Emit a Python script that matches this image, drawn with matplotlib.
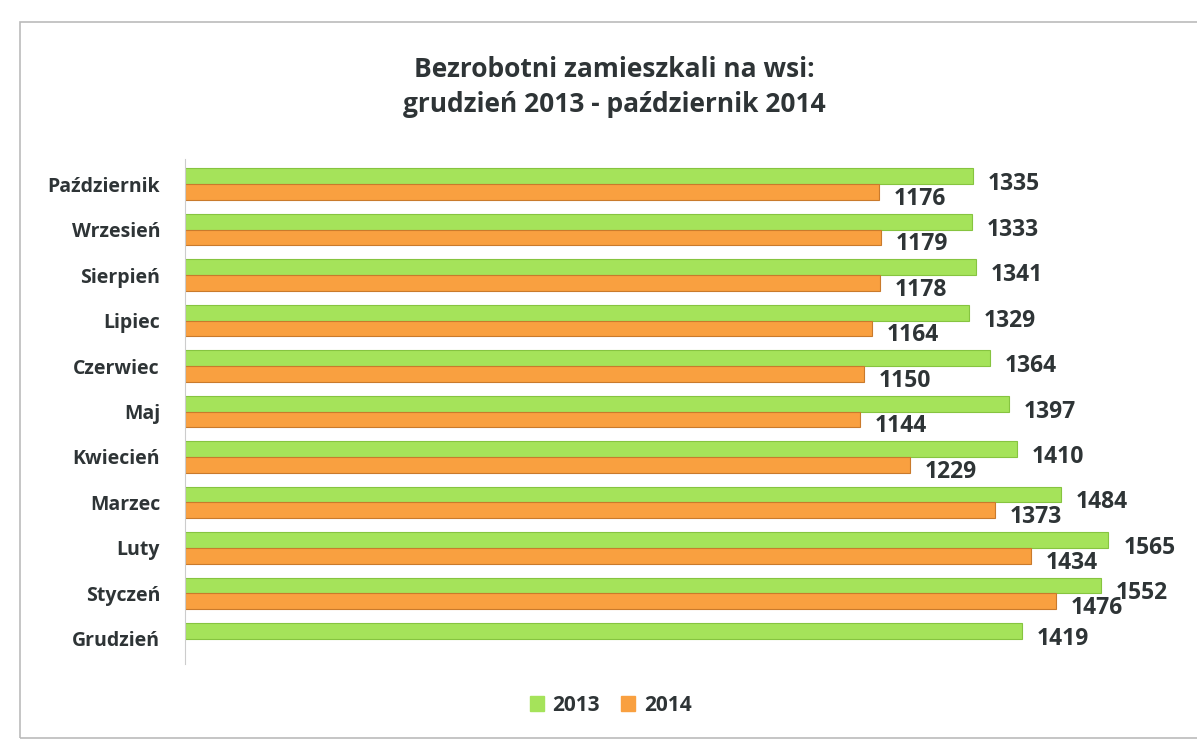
import matplotlib.pyplot as plt
from matplotlib.patches import Rectangle, Patch

plt.rcParams['font.family'] = ['Open Sans', 'DejaVu Sans']

# months from top to bottom, as in the chart
months = ['Październik', 'Wrzesień', 'Sierpień', 'Lipiec', 'Czerwiec', 'Maj',
          'Kwiecień', 'Marzec', 'Luty', 'Styczeń', 'Grudzień']
values_2013 = [1335, 1333, 1341, 1329, 1364, 1397, 1410, 1484, 1565, 1552, 1419]
values_2014 = [1176, 1179, 1178, 1164, 1150, 1144, 1229, 1373, 1434, 1476, None]

green = '#A5E35A'
orange = '#F9A040'
text_col = '#2E3436'

fig = plt.figure(figsize=(11.97, 7.44), dpi=100)

# outer frame of the chart
fig.patches.append(Rectangle((20 / 1197, 6 / 744), 1.2, 716 / 744, transform=fig.transFigure,
                             fill=False, edgecolor='#BBBBBB', linewidth=1.2))

ax = fig.add_axes([185 / 1197, 80 / 744, 1012 / 1197, 505 / 744])

n = len(months)
ypos = [n - 1 - i for i in range(n)]
h = 0.35

for i in range(n):
    y = ypos[i]
    v13 = values_2013[i]
    ax.barh(y + h / 2, v13, height=h, color=green, edgecolor='#86C440', linewidth=0.8)
    ax.text(v13 + 25, y, str(v13), ha='left', va='center', fontsize=16.5,
            fontweight='bold', color=text_col)
    v14 = values_2014[i]
    if v14 is not None:
        ax.barh(y - h / 2, v14, height=h, color=orange, edgecolor='#C97A2C', linewidth=0.8)
        ax.text(v14 + 25, y - 0.32, str(v14), ha='left', va='center', fontsize=16.5,
                fontweight='bold', color=text_col)

ax.set_xlim(0, 1715)
ax.set_ylim(-0.55, n - 0.45)
ax.set_yticks(ypos)
ax.set_yticklabels(months, fontsize=14, fontweight='bold', color=text_col)
ax.tick_params(axis='y', length=0, pad=18)
ax.set_xticks([])
for s in ['top', 'right', 'bottom']:
    ax.spines[s].set_visible(False)
ax.spines['left'].set_color('#CCCCCC')

fig.text(0.513, 0.883, 'Bezrobotni zamieszkali na wsi:\ngrudzień 2013 - październik 2014',
         ha='center', va='center', fontsize=19, fontweight='bold', color=text_col,
         linespacing=1.35)

handles = [Patch(color=green, label='2013'), Patch(color=orange, label='2014')]
fig.legend(handles=handles, loc='center', bbox_to_anchor=(0.51, 0.052), ncol=2,
           frameon=False, prop={'size': 15, 'weight': 'bold'}, handlelength=0.7,
           handleheight=0.7, columnspacing=1.0, handletextpad=0.4, labelcolor=text_col)

fig.savefig('out.png', dpi=100)
